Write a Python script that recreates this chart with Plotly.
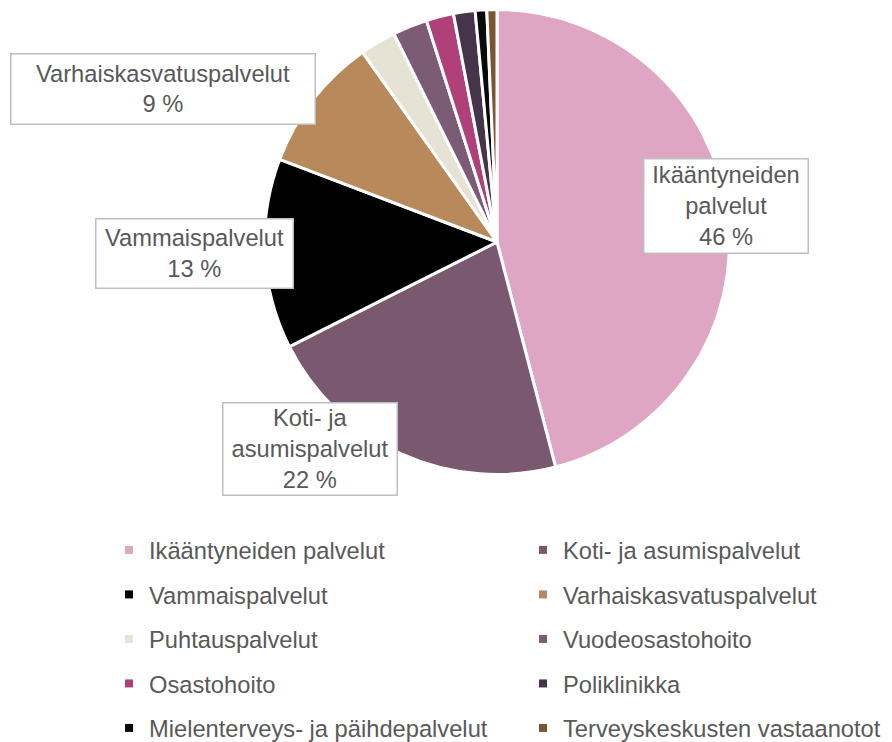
import plotly.graph_objects as go

labels = ["Ikääntyneiden palvelut", "Koti- ja asumispalvelut", "Vammaispalvelut",
          "Varhaiskasvatuspalvelut", "Puhtauspalvelut", "Vuodeosastohoito",
          "Osastohoito", "Poliklinikka", "Mielenterveys- ja päihdepalvelut",
          "Terveyskeskusten vastaanotot"]
values = [45.9, 21.6, 13.2, 9.4, 2.5, 2.4, 1.9, 1.5, 0.8, 0.7]
colors = ["#DFA6C4", "#7A5870", "#000000", "#B8895A", "#E6E3D4", "#7C5B74",
          "#B0407A", "#46344A", "#0A0A0A", "#7A5532"]

# labels shown in boxes (index, wrapped title)
box_labels = {0: "Ikääntyneiden<br>palvelut", 1: "Koti- ja<br>asumispalvelut",
              2: "Vammaispalvelut", 3: "Varhaiskasvatuspalvelut"}

W, H = 892, 742
OFF = 8  # page body margin of the browser
total = sum(values)
TXT = "#595959"
FONT = "Liberation Sans, Arial, sans-serif"
FS = 23.7


def px(x):
    return (x - OFF) / W


def py(y):
    return 1 - (y - OFF) / H


CX, CY, R = 497, 242, 232.5
fig = go.Figure(go.Pie(
    labels=labels, values=values, sort=False, direction="clockwise", rotation=0,
    marker=dict(colors=colors, line=dict(color="white", width=3)),
    textinfo="none", hoverinfo="label+percent", showlegend=False,
    domain=dict(x=[px(CX - R), px(CX + R)], y=[py(CY + R), py(CY - R)]),
))

# legend entries (two columns, row-major order as in the reference)
for i, (lab, col) in enumerate(zip(labels, colors)):
    fig.add_trace(go.Scatter(
        x=[None], y=[None], mode="markers", name=lab, legendgroup=lab,
        marker=dict(symbol="square", size=8, color=col),
        legend="legend" if i % 2 == 0 else "legend2", hoverinfo="skip",
    ))

# box geometry (pixels): left, top, right, bottom
boxes = {0: (643, 158, 808, 253), 1: (222, 402, 397, 495), 2: (95, 218, 293, 288), 3: (10, 53, 315, 124)}
for i, (l, t, r, b) in boxes.items():
    pct = round(values[i] / total * 100)
    fig.add_annotation(
        x=px((l + r) / 2), y=py((t + b) / 2), xref="paper", yref="paper",
        xanchor="center", yanchor="middle", showarrow=False,
        text=f"{box_labels[i]}<br>{pct} %", align="center",
        width=r - l - 2, height=b - t - 2, borderpad=0,
        bordercolor="#BFBFBF", borderwidth=1.5, bgcolor="white",
        font=dict(family=FONT, size=FS, color=TXT),
    )

leg_common = dict(orientation="v", yanchor="top", xanchor="left", tracegroupgap=10.7,
                  font=dict(family=FONT, size=FS, color=TXT), bgcolor="rgba(0,0,0,0)",
                  traceorder="grouped")
fig.update_layout(
    width=W, height=H, margin=dict(l=0, r=0, t=0, b=0, autoexpand=False),
    paper_bgcolor="white", plot_bgcolor="white", showlegend=True,
    xaxis=dict(visible=False), yaxis=dict(visible=False),
    legend=dict(x=101 / W, y=1 - 520 / H, **leg_common),
    legend2=dict(x=515 / W, y=1 - 520 / H, **leg_common),
)
fig.write_html("out.html")
